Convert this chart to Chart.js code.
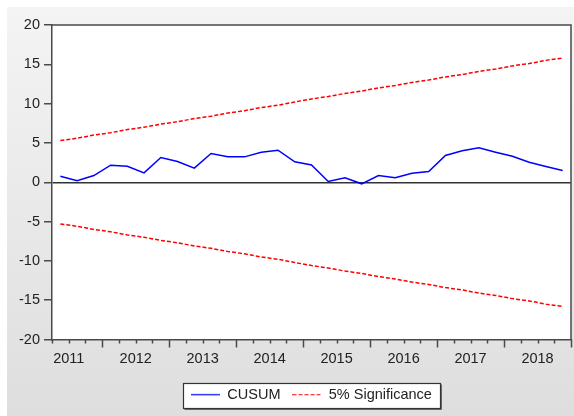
<!DOCTYPE html>
<html>
<head>
<meta charset="utf-8">
<script src="https://cdn.jsdelivr.net/npm/chart.js@4"></script>
<style>
  html, body { margin: 0; padding: 0; background: #fff; }
  #wrap { width: 574px; height: 416px; }
</style>
</head>
<body>
<div id="wrap"><canvas id="cusum"></canvas></div>
<script>
// quarterly observations, 2010Q4 .. 2018Q2
const periods = [
    '2010Q4',
    '2011Q1', '2011Q2', '2011Q3', '2011Q4',
    '2012Q1', '2012Q2', '2012Q3', '2012Q4',
    '2013Q1', '2013Q2', '2013Q3', '2013Q4',
    '2014Q1', '2014Q2', '2014Q3', '2014Q4',
    '2015Q1', '2015Q2', '2015Q3', '2015Q4',
    '2016Q1', '2016Q2', '2016Q3', '2016Q4',
    '2017Q1', '2017Q2', '2017Q3', '2017Q4',
    '2018Q1', '2018Q2'
];

const cusum = [
    0.76, 0.18, 0.85, 2.17, 2.04, 1.19, 3.15, 2.64, 1.79, 3.66, 3.23,
    3.23, 3.82, 4.08, 2.60, 2.20, 0.09, 0.56, -0.20, 0.85, 0.56,
    1.15, 1.36, 3.40, 4.00, 4.38, 3.82, 3.31, 2.55, 2.00, 1.49
];

const upperBand = [
    5.3, 5.6, 6.0, 6.3, 6.7, 7.0, 7.4, 7.7, 8.1, 8.4, 8.8,
    9.1, 9.5, 9.8, 10.2, 10.6, 10.9, 11.3, 11.6, 12.0, 12.3,
    12.7, 13.0, 13.4, 13.7, 14.1, 14.4, 14.8, 15.1, 15.5, 15.8
];

const lowerBand = [
    -5.3, -5.6, -6.0, -6.3, -6.7, -7.0, -7.4, -7.7, -8.1, -8.4, -8.8,
    -9.1, -9.5, -9.8, -10.2, -10.6, -10.9, -11.3, -11.6, -12.0, -12.3,
    -12.7, -13.0, -13.4, -13.7, -14.1, -14.4, -14.8, -15.1, -15.5, -15.8
];

const yTicks = [-20, -15, -10, -5, 0, 5, 10, 15, 20];

const FONT = "'Liberation Sans', Arial, sans-serif";
const FONT_SIZE = 14.5;
const INK = '#222';
const AXIS = '#4a4a4a';
const BLUE = '#0000ff';
const RED = '#ff0000';
const DASH = [4, 2];

// each observation sits in the middle of its quarter slot
function toPoints(values) {
    return values.map((v, i) => ({ x: i + 0.5, y: v }));
}

// small line swatch used as the legend symbol
function swatch(color, dash) {
    const c = document.createElement('canvas');
    c.width = 29;
    c.height = 3;
    const g = c.getContext('2d');
    g.strokeStyle = color;
    g.lineWidth = 1.2;
    g.setLineDash(dash);
    g.beginPath();
    g.moveTo(0, 1.5);
    g.lineTo(29, 1.5);
    g.stroke();
    return c;
}

// background, frame, quarter tick marks and the boxed legend
const eviewsFrame = {
    id: 'eviewsFrame',
    beforeDraw(chart) {
        const { ctx, chartArea: a, width, height } = chart;
        ctx.save();
        ctx.fillStyle = '#fff';
        ctx.fillRect(0, 0, width, height);
        const g = ctx.createLinearGradient(0, 7, 0, height);
        g.addColorStop(0, '#f4f4f4');
        g.addColorStop(1, '#dedede');
        ctx.fillStyle = g;
        ctx.fillRect(7, 7, width - 7, height - 7);
        ctx.fillStyle = '#fff';
        ctx.fillRect(a.left, a.top, a.right - a.left, a.bottom - a.top);

        const box = legendBox(chart);
        if (box) ctx.fillRect(box.x, box.y, box.w, box.h);
        ctx.restore();
    },
    afterDraw(chart) {
        const { ctx, chartArea: a } = chart;
        const xs = chart.scales.x;
        ctx.save();
        ctx.strokeStyle = AXIS;
        ctx.lineWidth = 1.5;
        // top and right edges of the plot frame
        ctx.beginPath();
        ctx.moveTo(a.left, a.top);
        ctx.lineTo(a.right, a.top);
        ctx.lineTo(a.right, a.bottom);
        ctx.stroke();

        // a tick at every quarter boundary, longer one every fourth
        for (let i = 0; i <= periods.length; i++) {
            const px = Math.round(xs.getPixelForValue(i)) + 0.5;
            const len = (i + 1) % 4 === 0 ? 8 : 4;
            ctx.beginPath();
            ctx.moveTo(px, a.bottom);
            ctx.lineTo(px, a.bottom + len);
            ctx.stroke();
        }

        const box = legendBox(chart);
        if (box) {
            ctx.strokeStyle = '#333';
            ctx.lineWidth = 1.2;
            ctx.strokeRect(box.x, box.y, box.w, box.h);
            // slight shade on the right and bottom edges
            ctx.strokeStyle = '#666';
            ctx.lineWidth = 1;
            ctx.beginPath();
            ctx.moveTo(box.x + box.w + 1, box.y + 1);
            ctx.lineTo(box.x + box.w + 1, box.y + box.h + 1);
            ctx.lineTo(box.x + 1, box.y + box.h + 1);
            ctx.stroke();
        }
        ctx.restore();
    }
};

function legendBox(chart) {
    const hb = chart.legend && chart.legend.legendHitBoxes;
    if (!hb || !hb.length) return null;
    const first = hb[0];
    const last = hb[hb.length - 1];
    const cy = first.top + first.height / 2;
    const x0 = Math.round(first.left - 8) + 0.5;
    const x1 = Math.round(last.left + last.width + 8) + 0.5;
    return { x: x0, y: Math.round(cy - 12) + 0.5, w: x1 - x0, h: 25 };
}

const ctx = document.getElementById('cusum').getContext('2d');

new Chart(ctx, {
    type: 'line',
    data: {
        datasets: [
            {
                label: 'CUSUM',
                data: toPoints(cusum),
                borderColor: BLUE,
                borderWidth: 1.5,
                pointRadius: 0,
                pointStyle: swatch(BLUE, []),
                tension: 0
            },
            {
                label: '5% Significance',
                data: toPoints(upperBand),
                borderColor: RED,
                borderWidth: 1.5,
                borderDash: DASH,
                pointRadius: 0,
                pointStyle: swatch(RED, DASH),
                tension: 0
            },
            {
                label: '5% Significance',
                data: toPoints(lowerBand),
                borderColor: RED,
                borderWidth: 1.5,
                borderDash: DASH,
                pointRadius: 0,
                tension: 0
            }
        ]
    },
    options: {
        responsive: true,
        maintainAspectRatio: false,
        animation: false,
        layout: {
            padding: { left: 7, right: 3, top: 25, bottom: 4 }
        },
        scales: {
            x: {
                type: 'linear',
                min: 0,
                max: periods.length,
                afterFit: s => { s.height = 36; },
                afterBuildTicks: s => {
                    s.ticks = periods.map((p, i) => ({ value: i }));
                },
                border: { display: true, color: AXIS, width: 1.5 },
                grid: { display: false, drawTicks: false },
                ticks: {
                    autoSkip: false,
                    maxRotation: 0,
                    padding: 11,
                    color: INK,
                    font: { family: FONT, size: FONT_SIZE },
                    callback: v => {
                        const p = periods[v];
                        return p && p.endsWith('Q1') ? p.slice(0, 4) : '';
                    }
                }
            },
            y: {
                min: -20,
                max: 20,
                afterFit: s => { s.width = 45; },
                afterBuildTicks: s => {
                    s.ticks = yTicks.map(v => ({ value: v }));
                },
                border: { display: true, color: AXIS, width: 1.5 },
                grid: {
                    drawOnChartArea: true,
                    color: c => (c.tick && c.tick.value === 0 ? '#333' : 'rgba(0,0,0,0)'),
                    lineWidth: 1.5,
                    tickColor: AXIS,
                    tickLength: 8,
                    tickWidth: 1.5
                },
                ticks: {
                    padding: 4,
                    color: INK,
                    font: { family: FONT, size: FONT_SIZE }
                }
            }
        },
        plugins: {
            tooltip: { enabled: false },
            legend: {
                position: 'bottom',
                fullSize: false,
                labels: {
                    usePointStyle: true,
                    pointStyleWidth: 29,
                    padding: 12,
                    color: INK,
                    font: { family: FONT, size: FONT_SIZE },
                    filter: item => item.datasetIndex !== 2
                }
            }
        }
    },
    plugins: [eviewsFrame]
});
</script>
</body>
</html>
